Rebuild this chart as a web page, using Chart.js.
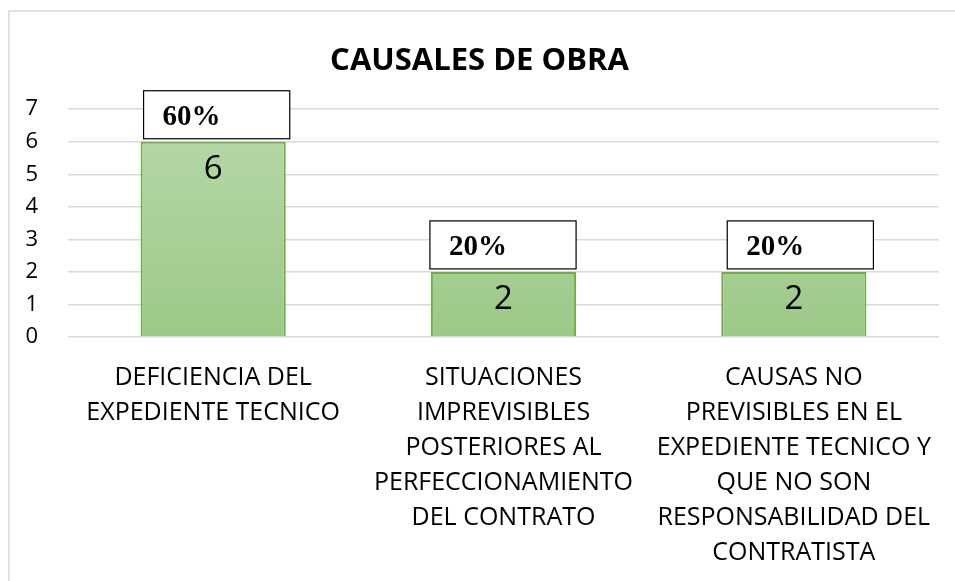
<!DOCTYPE html>
<html>
<head>
<meta charset="utf-8">
<script src="https://cdn.jsdelivr.net/npm/chart.js@4"></script>
<style>
  html, body { margin: 0; padding: 0; background: #fff; }
  #wrap { width: 955px; height: 581px; position: relative; }
</style>
</head>
<body>
<div id="wrap"><canvas id="causales"></canvas></div>
<script>
// chart data
const categories = [
  ['DEFICIENCIA DEL', 'EXPEDIENTE TECNICO'],
  ['SITUACIONES', 'IMPREVISIBLES', 'POSTERIORES AL', 'PERFECCIONAMIENTO', 'DEL CONTRATO'],
  ['CAUSAS NO', 'PREVISIBLES EN EL', 'EXPEDIENTE TECNICO Y', 'QUE NO SON', 'RESPONSABILIDAD DEL', 'CONTRATISTA']
];
const counts = [6, 2, 2];
const percents = ['60%', '20%', '20%'];
const yTicks = [0, 1, 2, 3, 4, 5, 6, 7];

const FONT = "'Open Sans', 'Noto Sans', sans-serif";

// outer frame like the office chart border
const framePlugin = {
  id: 'frame',
  beforeDraw(chart) {
    const c = chart.ctx;
    c.save();
    c.strokeStyle = '#d9d9d9';
    c.lineWidth = 1.5;
    c.beginPath();
    c.moveTo(9, chart.height);
    c.lineTo(9, 11);
    c.lineTo(chart.width, 11);
    c.stroke();
    c.restore();
  }
};

// value inside bar + boxed percentage above it
const labelPlugin = {
  id: 'labels',
  afterDatasetsDraw(chart) {
    const c = chart.ctx;
    const meta = chart.getDatasetMeta(0);
    c.save();
    meta.data.forEach((bar, i) => {
      const half = bar.width / 2;
      // percentage box
      const bx = bar.x - half + (i === 1 ? -1 : i === 2 ? 6 : 3);
      const by = bar.y - 51;
      c.fillStyle = '#fff';
      c.fillRect(bx, by, bar.width + 1, 48);
      c.strokeStyle = '#000';
      c.lineWidth = 1.2;
      c.strokeRect(bx, by, bar.width + 1, 48);
      c.fillStyle = '#000';
      c.font = "bold 29px 'Liberation Serif', serif";
      c.textAlign = 'left';
      c.textBaseline = 'middle';
      c.fillText(percents[i], bx + 19, by + 27);
      // count inside the bar
      c.font = '33px ' + FONT;
      c.textAlign = 'center';
      c.fillText(String(counts[i]), bar.x, bar.y + 28);
    });
    c.restore();
  }
};

const ctx = document.getElementById('causales').getContext('2d');

function barFill(context) {
  const area = context.chart.chartArea;
  if (!area) return '#a9d18e';
  const g = context.chart.ctx.createLinearGradient(0, area.top, 0, area.bottom);
  g.addColorStop(0, '#b8d8aa');
  g.addColorStop(1, '#9dc987');
  return g;
}

new Chart(ctx, {
  type: 'bar',
  data: {
    labels: categories,
    datasets: [{
      data: counts,
      backgroundColor: barFill,
      borderColor: '#70ad47',
      borderWidth: 2,
      categoryPercentage: 0.5,
      barPercentage: 1
    }]
  },
  options: {
    responsive: true,
    maintainAspectRatio: false,
    animation: false,
    layout: { padding: { left: 20, right: 16, top: 0, bottom: 0 } },
    scales: {
      x: {
        afterFit(scale) { scale.height = 244; },
        grid: { display: false },
        border: { display: false },
        ticks: {
          color: '#000',
          font: { family: FONT, size: 25, lineHeight: 1.4 },
          maxRotation: 0,
          autoSkip: false,
          padding: 15
        }
      },
      y: {
        min: 0,
        max: 7,
        afterBuildTicks(scale) {
          scale.ticks = yTicks.map(v => ({ value: v }));
        },
        afterFit(scale) { scale.width = 48; },
        grid: { color: '#d9d9d9', lineWidth: 1.5, drawTicks: false },
        border: { display: false },
        ticks: {
          color: '#000',
          font: { family: FONT, size: 22 },
          autoSkip: false,
          padding: 30
        }
      }
    },
    plugins: {
      legend: { display: false },
      tooltip: { enabled: false },
      title: {
        display: true,
        text: 'CAUSALES DE OBRA',
        color: '#000',
        font: { family: FONT, size: 31, weight: 'bold' },
        padding: { top: 43, bottom: 29 }
      }
    }
  },
  plugins: [framePlugin, labelPlugin]
});
</script>
</body>
</html>
